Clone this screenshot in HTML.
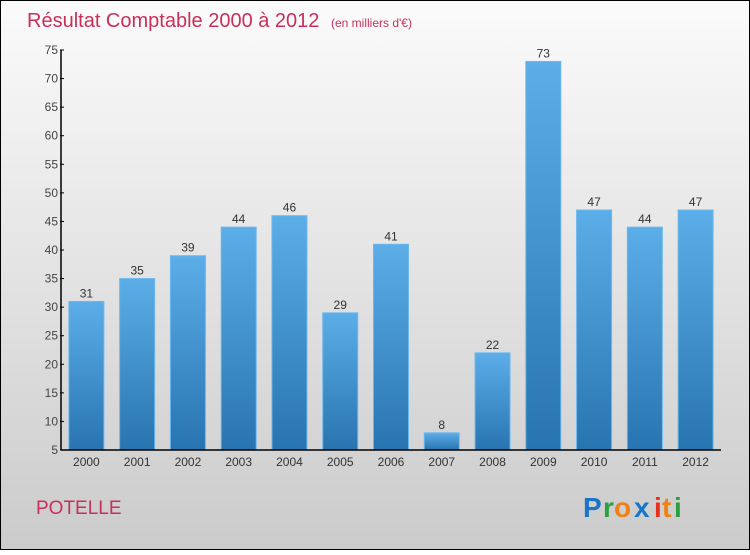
<!DOCTYPE html>
<html><head><meta charset="utf-8"><style>
html,body{margin:0;padding:0}
body{width:750px;height:550px;overflow:hidden;font-family:"Liberation Sans",sans-serif}
</style></head><body>
<svg id="chart" width="750" height="550" xmlns="http://www.w3.org/2000/svg">
<defs>
<linearGradient id="bg" x1="0" y1="0" x2="0" y2="1"><stop offset="0" stop-color="#fbfbfb"/><stop offset="1" stop-color="#cbcbcb"/></linearGradient>
<linearGradient id="bar" x1="0" y1="0" x2="0" y2="1"><stop offset="0" stop-color="#5caee8"/><stop offset="1" stop-color="#2874b0"/></linearGradient>
</defs>
<rect x="0.5" y="0.5" width="749" height="549" fill="url(#bg)" stroke="#000"/>
<text x="27" y="27" font-size="20" fill="#c8305a">Résultat Comptable 2000 à 2012 <tspan font-size="12" dx="6">(en milliers d'€)</tspan></text>
<g id="bars"></g>
<g id="axes"></g>
<text x="36" y="514" font-size="19" fill="#c8305a">POTELLE</text>
<g font-size="28" font-weight="bold" font-family="'Liberation Sans',sans-serif">
<text x="583" y="517" fill="#1a74c8">P</text><text x="603" y="517" fill="#2aa040">r</text><text x="614" y="517" fill="#f08010">o</text><text x="634" y="517" fill="#1a74c8">x</text><text x="654" y="517" fill="#e83020">i</text><text x="662" y="517" fill="#f08010">t</text><text x="674" y="517" fill="#2aa040">i</text>
</g>
</svg>
<script>
const years=["2000","2001","2002","2003","2004","2005","2006","2007","2008","2009","2010","2011","2012"];
const values=[31,35,39,44,46,29,41,8,22,73,47,44,47];
const yTicks=[5,10,15,20,25,30,35,40,45,50,55,60,65,70,75];
const NS="http://www.w3.org/2000/svg";
const y0=450,y1=50,vmin=5,vmax=75,x0=61,x1=721;
const yS=v=>y0-(v-vmin)/(vmax-vmin)*(y0-y1);
const step=(x1-x0)/years.length;
const xC=i=>x0+step*(i+0.5);
function mk(t,a,p){const e=document.createElementNS(NS,t);for(const k in a)e.setAttribute(k,a[k]);p.appendChild(e);return e;}
const gb=document.getElementById('bars'),ga=document.getElementById('axes');
values.forEach((v,i)=>{
 const w=35,x=xC(i)-w/2,y=yS(v);
 const r=mk('rect',{x:x,y:y,width:w,height:y0-y,fill:'url(#bar)',stroke:'#6cb8ec','stroke-width':1},gb);
 
 
 const t=mk('text',{x:xC(i),y:y-4,'text-anchor':'middle','font-size':12,fill:'#333'},gb);
 t.textContent=v;
 
 
 const xl=mk('text',{x:xC(i),y:466,'text-anchor':'middle','font-size':12,fill:'#333'},ga);
 xl.textContent=years[i];
 
 
});
const ya=mk('line',{x1:x0,y1:y1,x2:x0,y2:y0,stroke:'#000','stroke-width':1.5},ga);


const xa=mk('line',{x1:x0,y1:y0,x2:x1,y2:y0,stroke:'#000','stroke-width':1.5},ga);


yTicks.forEach(v=>{
 mk('line',{x1:x0-1,y1:yS(v),x2:x0+3,y2:yS(v),stroke:'#000'},ga);
 const t=mk('text',{x:x0-3,y:yS(v)+4,'text-anchor':'end','font-size':12,fill:'#444'},ga);
 t.textContent=v;
 
 
});
</script>
</body></html>
